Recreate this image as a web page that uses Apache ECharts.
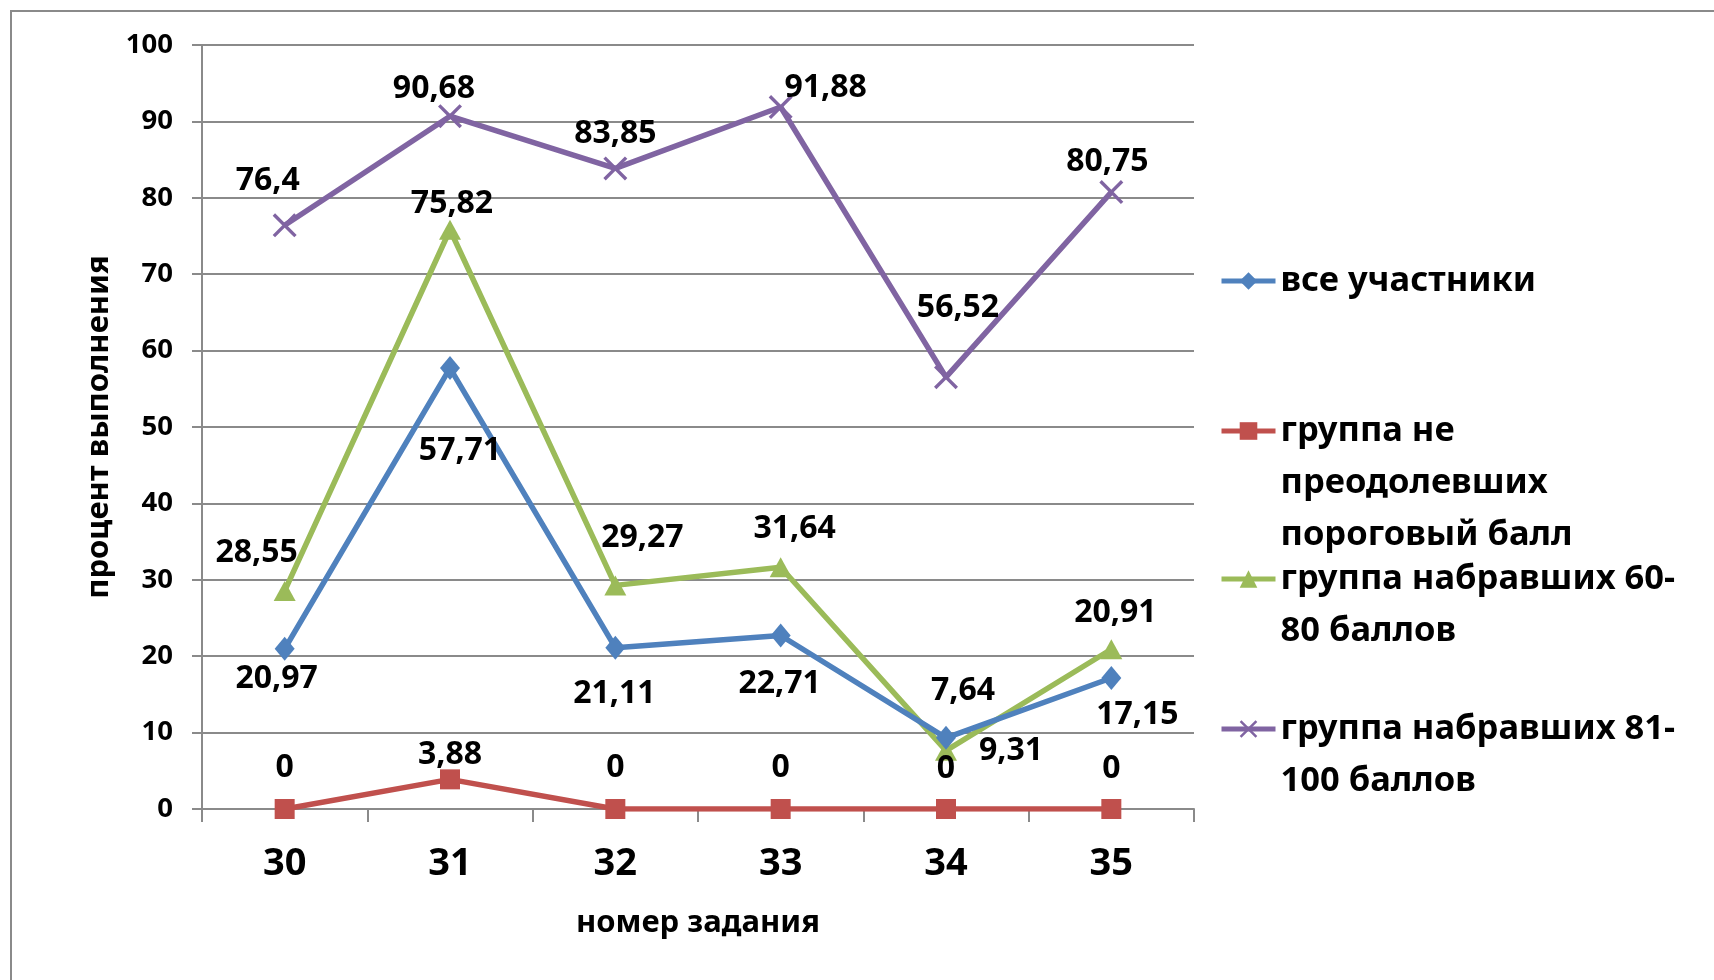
<!DOCTYPE html>
<html>
<head>
<meta charset="utf-8">
<script src="https://cdn.jsdelivr.net/npm/echarts@6/dist/echarts.min.js"></script>
<style>
  html, body { margin: 0; padding: 0; background: #fff; }
  #chart { width: 1714px; height: 980px; }
</style>
</head>
<body>
<div id="chart"></div>
<script>
// Task numbers on the x axis
const categories = ['30', '31', '32', '33', '34', '35'];

// Completion percentage per group
const allParticipants = [20.97, 57.71, 21.11, 22.71, 9.31, 17.15];
const belowThreshold  = [0, 3.88, 0, 0, 0, 0];
const group60to80     = [28.55, 75.82, 29.27, 31.64, 7.64, 20.91];
const group81to100    = [76.4, 90.68, 83.85, 91.88, 56.52, 80.75];

// Legend texts, one entry per line
const seriesNames = [
  ['все участники'],
  ['группа не', 'преодолевших', 'пороговый балл'],
  ['группа набравших 60-', '80 баллов'],
  ['группа набравших 81-', '100 баллов']
];

const yTicks = { min: 0, max: 100, interval: 10 };
const xAxisTitle = 'номер задания';
const yAxisTitle = 'процент выполнения';

// Label offsets (px) from each point, per series
const labelOffsets = [
  [[-8, 30], [10, 83], [-1, 46], [-1, 48], [65, 13], [26, 37]],
  [[0, -41], [0, -24], [0, -41], [0, -41], [0, -40], [0, -40]],
  [[-28, -38], [2, -26], [27, -47], [14, -38], [17, -60], [4, -36]],
  [[-17, -44], [-16, -27], [0, -34], [45, -19], [12, -69], [-4, -30]]
];

const FONT = 'Noto Sans';
const colors = ['#4F81BD', '#C0504D', '#9BBB59', '#8064A2'];
const symbols = [
  'diamond',
  'rect',
  'triangle',
  'path://M0,1L1,0L10,9L9,10Z M9,0L10,1L1,10L0,9Z'
];
const symbolSizes = [[20, 24], 20, [22, 20], 24];
const values = [allParticipants, belowThreshold, group60to80, group81to100];

const fmt = v => String(v).replace('.', ',');

const series = values.map((vals, s) => ({
  name: seriesNames[s].join(' '),
  type: 'line',
  data: vals.map((v, i) => ({
    value: v,
    label: { offset: labelOffsets[s][i] }
  })),
  symbol: symbols[s],
  symbolSize: symbolSizes[s],
  lineStyle: { color: colors[s], width: 5.5 },
  itemStyle: { color: colors[s], borderWidth: 0 },
  z: s === 0 ? 4 : 3,
  label: {
    show: true,
    position: 'inside',
    formatter: p => fmt(p.value),
    color: '#000',
    fontFamily: FONT,
    fontWeight: 'bold',
    fontSize: 32
  },
  emphasis: { disabled: true },
  animation: false
}));

// One legend block per series; blank lines above the text keep the
// marker level with the first line of a wrapped name
const legendTops = [255, 301, 501, 651];
const lineH = 52;
const legends = seriesNames.map((lines, s) => ({
  data: [lines.join(' ')],
  left: 1219,
  top: legendTops[s],
  padding: 0,
  itemWidth: 54,
  itemHeight: 22,
  selectedMode: false,
  lineStyle: { width: 5 },
  formatter: () => new Array(lines.length - 1).fill('').concat(lines).join('\n'),
  textStyle: {
    fontFamily: FONT,
    fontWeight: 'bold',
    fontSize: 34.5,
    color: '#000',
    lineHeight: lineH
  }
}));

const chart = echarts.init(document.getElementById('chart'), null, { renderer: 'canvas' });
chart.setOption({
  backgroundColor: '#fff',
  animation: false,
  graphic: [{
    type: 'rect',
    shape: { x: 11, y: 11, width: 2000, height: 2000 },
    style: { fill: 'none', stroke: '#8a8a8a', lineWidth: 2 },
    silent: true,
    z: -10
  }],
  legend: legends,
  grid: { left: 202, right: 520, top: 45, bottom: 171 },
  xAxis: {
    type: 'category',
    data: categories,
    boundaryGap: true,
    name: xAxisTitle,
    nameLocation: 'middle',
    nameGap: 99,
    nameTextStyle: { fontFamily: FONT, fontWeight: 'bold', fontSize: 31, color: '#000' },
    axisLine: { lineStyle: { color: '#8a8a8a', width: 2 } },
    axisTick: { show: true, length: 13, lineStyle: { color: '#8a8a8a', width: 2 } },
    axisLabel: { fontFamily: FONT, fontWeight: 'bold', fontSize: 38, color: '#000', margin: 36 }
  },
  yAxis: {
    type: 'value',
    min: yTicks.min,
    max: yTicks.max,
    interval: yTicks.interval,
    name: yAxisTitle,
    nameLocation: 'middle',
    nameGap: 87,
    nameRotate: 90,
    nameTextStyle: { fontFamily: FONT, fontWeight: 'bold', fontSize: 31, color: '#000' },
    axisLine: { show: true, lineStyle: { color: '#8a8a8a', width: 2 } },
    axisTick: { show: true, length: 10, lineStyle: { color: '#8a8a8a', width: 2 } },
    splitLine: { show: true, lineStyle: { color: '#8a8a8a', width: 2 } },
    axisLabel: { fontFamily: FONT, fontWeight: 'bold', fontSize: 27.5, color: '#000', margin: 29 }
  },
  series: series
});
</script>
</body>
</html>
